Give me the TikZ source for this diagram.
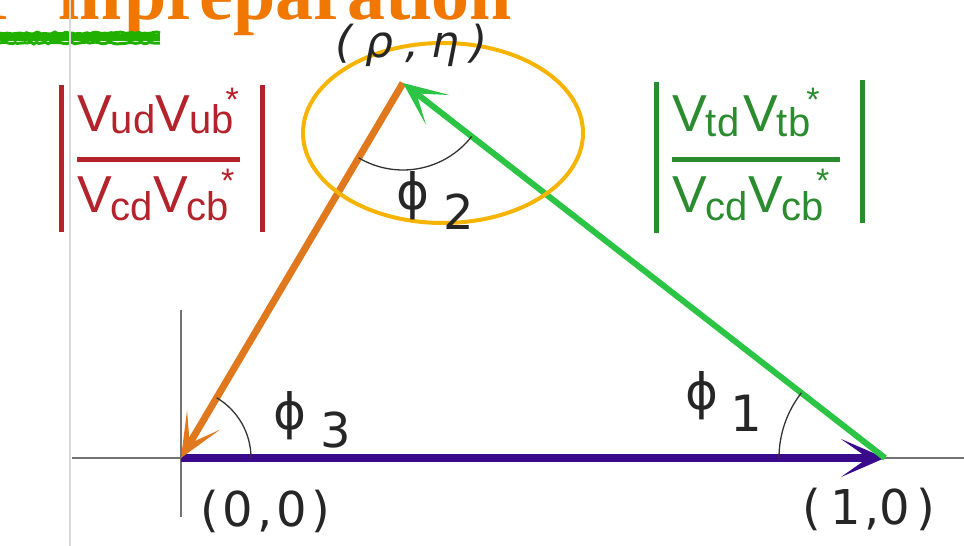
\documentclass[tikz,border=0pt]{standalone}
\usepackage{fontspec}
\setmainfont{Liberation Sans}
\newfontfamily\djv{DejaVu Sans}
\newfontfamily\titlefont{Liberation Serif}
\usetikzlibrary{arrows.meta,angles,decorations.pathmorphing}
\newcommand{\fsz}[1]{\fontsize{#1}{#1}\selectfont}
\newcommand{\ckmV}[2]{V\kern-1pt\raisebox{-#2pt}{\fsz{40}#1}}
\newcommand{\ckmstar}{\kern-8pt\raisebox{20pt}{\fsz{34}*}}
\definecolor{ckmred}{HTML}{B4222B}
\definecolor{ckmgreen}{HTML}{2A8C2E}
\definecolor{arrgreen}{HTML}{2CC444}
\definecolor{arrorange}{HTML}{E0781E}
\definecolor{arrpurple}{HTML}{3A0A8C}
\definecolor{ellyellow}{HTML}{F6B400}
\definecolor{titleorange}{HTML}{F07800}
\definecolor{brushgreen}{HTML}{22B000}
\tikzset{
  vec/.style={line width=#1, -{Stealth[length=44pt,width=38pt,inset=27pt]}},
  axisline/.style={draw=black!55, line width=2.5pt},
  anglearc/.style={draw=black!80, line width=1.3pt},
  absbar/.style={line width=5pt},
  ckmtext/.style={anchor=base west, inner sep=0pt, font=\fsz{52}},
  philabel/.style={anchor=base west, inner sep=0pt, font=\djv, text=black!85},
  coordlabel/.style={anchor=base west, inner sep=0pt, font=\djv\fsz{48}, text=black!85},
  brush/.style={brushgreen, decorate, decoration={random steps,segment length=3pt,amplitude=1pt}},
}
\begin{document}
\begin{tikzpicture}[x=1pt,y=1pt]
\path[use as bounding box] (0,0) rectangle (964,546);
\clip (0,0) rectangle (964,546);
\fill[white] (0,0) rectangle (964,546);

% title (cut off at top) and green brush stroke
\node[anchor=base east, inner sep=0pt, text=titleorange, font=\titlefont\bfseries\fsz{76}] (title) at (512,526) {T\hspace{40pt}in\hspace{3pt}preparation};
\coordinate (brushL) at (0,508);
\coordinate (brushR) at (160,508);
\draw[brushgreen, line width=7pt] (brushL) -- (brushR);
\foreach \yy in {503,513}
  \draw[brush, line width=3pt] (0,\yy) -- (160,\yy);

% axes
\coordinate (O) at (181,88);
\coordinate (A) at (885,88);
\coordinate (P) at (403,463);
\coordinate (faintT) at (70,546);
\coordinate (faintB) at (70,0);
\coordinate (xL) at (72,88);
\coordinate (xR) at (964,88);
\coordinate (yT) at (181,236);
\coordinate (yB) at (181,29);
\draw[black!15, line width=1.5pt] (faintT) -- (faintB);
\draw[axisline] (xL) -- (xR);
\draw[axisline] (yT) -- (yB);

% triangle vectors
\draw[vec=8pt, arrpurple] (O) -- (A);
\draw[vec=7pt, arrorange] (P) -- (O);
\draw[vec=6pt, arrgreen] (A) -- (P);

% angle arcs
\pic[anglearc, angle radius=70pt] {angle=A--O--P};
\pic[anglearc, angle radius=87pt] {angle=O--P--A};
\pic[anglearc, angle radius=106pt] {angle=P--A--O};

% highlight ellipse
\draw[ellyellow, line width=4pt] (443,413) ellipse [x radius=140pt, y radius=90pt];

% vertex labels
\node[anchor=center, inner sep=0pt, font=\djv\itshape\fsz{44}, text=black!85] (rhoeta) at (412,501) {(\hspace{12pt}ρ\hspace{12pt},\hspace{12pt}η\hspace{12pt})};
\node[coordlabel] (origin) at (200,19) {(\hspace{4pt}0\hspace{4pt},\hspace{4pt}0\hspace{4pt})};
\node[coordlabel] (unit) at (802,21) {(\hspace{10pt}1\hspace{3pt},0\hspace{6pt})};

% angle labels
\node[philabel] (phi2) at (396,336) {{\fsz{50}ϕ}\hspace{14pt}\raisebox{-20pt}{\fsz{48}2}};
\node[philabel] (phi3) at (273,116) {{\fsz{50}ϕ}\hspace{14pt}\raisebox{-18pt}{\fsz{48}3}};
\node[philabel] (phi1) at (685,136) {{\fsz{50}ϕ}\hspace{12pt}\raisebox{-22pt}{\fsz{50}1}};

% left ratio (red)
\coordinate (rbarLt) at (61,461);
\coordinate (rbarLb) at (61,314);
\coordinate (rbarRt) at (262,461);
\coordinate (rbarRb) at (262,314);
\coordinate (rfracL) at (77,386);
\coordinate (rfracR) at (240,386);
\draw[absbar, ckmred] (rbarLt) -- (rbarLb);
\draw[absbar, ckmred] (rbarRt) -- (rbarRb);
\draw[absbar, ckmred] (rfracL) -- (rfracR);
\node[ckmtext, text=ckmred] (rnum) at (77,414) {\ckmV{ud}{2}\ckmV{ub}{2}\ckmstar};
\node[ckmtext, text=ckmred] (rden) at (77,333) {\ckmV{cd}{8}\ckmV{cb}{8}\ckmstar};

% right ratio (green)
\coordinate (gbarLt) at (656,464);
\coordinate (gbarLb) at (656,313);
\coordinate (gbarRt) at (862,466);
\coordinate (gbarRb) at (862,323);
\coordinate (gfracL) at (672,386);
\coordinate (gfracR) at (840,386);
\draw[absbar, ckmgreen] (gbarLt) -- (gbarLb);
\draw[absbar, ckmgreen] (gbarRt) -- (gbarRb);
\draw[absbar, ckmgreen] (gfracL) -- (gfracR);
\node[ckmtext, text=ckmgreen] (gnum) at (672,414) {\ckmV{td}{5}\hspace{4pt}\ckmV{tb}{5}\hspace{4pt}\ckmstar};
\node[ckmtext, text=ckmgreen] (gden) at (672,333) {\ckmV{cd}{8}\ckmV{cb}{8}\ckmstar};
\end{tikzpicture}
\end{document}
